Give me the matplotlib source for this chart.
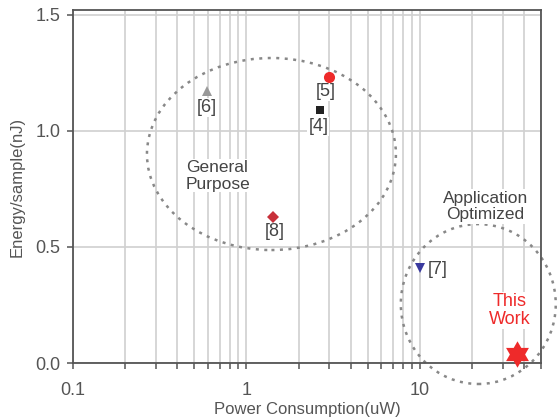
import matplotlib
matplotlib.use("Agg")
import matplotlib.pyplot as plt
from matplotlib.patches import Ellipse
from matplotlib.path import Path
from matplotlib.ticker import LogLocator, FixedLocator, NullFormatter, FixedFormatter

plt.rcParams['font.family'] = ['Liberation Sans', 'DejaVu Sans']

# ---- data ----
labels = ["[4]", "[5]", "[6]", "[7]", "[8]", "This\nWork"]
power = [2.65, 3.0, 0.59, 10.0, 1.43, 36.5]          # uW
energy = [1.09, 1.23, 1.17, 0.41, 0.63, 0.04]        # nJ/sample
x_ticks = [0.1, 1, 10]
x_tick_labels = ["0.1", "1", "10"]
y_ticks = [0.0, 0.5, 1.0, 1.5]
y_tick_labels = ["0.0", "0.5", "1.0", "1.5"]

# ---- styles ----
hexagram = Path.unit_regular_star(6, 0.577)
markers = ["s", "o", "^", "v", "D", hexagram]
colors = ["#222222", "#ee2a2a", "#999999", "#3a3a9e", "#c8303a", "#ee2a2a"]
sizes = [5.5, 8, 7, 7, 6.5, 19]
label_offsets = [(-1.5, -16.7), (-3.5, -14.5), (0, -16.5), (8, -2), (1, -15), (-8, 43)]
label_ha = ["center", "center", "center", "left", "center", "center"]
label_colors = ["#444444", "#444444", "#444444", "#444444", "#444444", "#ee2a2a"]

fig = plt.figure(figsize=(5.57, 4.2), dpi=100)
ax = fig.add_axes([73/557, 1 - 363/420, (541-73)/557, (363-10)/420])

ax.set_xscale("log")
ax.set_xlim(0.1, 50)
ax.set_ylim(0, 1.52)

ax.xaxis.set_major_locator(FixedLocator(x_ticks))
ax.xaxis.set_major_formatter(FixedFormatter(x_tick_labels))
ax.xaxis.set_minor_locator(LogLocator(base=10, subs=range(2, 10)))
ax.xaxis.set_minor_formatter(NullFormatter())
ax.yaxis.set_major_locator(FixedLocator(y_ticks))
ax.yaxis.set_major_formatter(FixedFormatter(y_tick_labels))

ax.grid(True, which="both", axis="x", color="#d0d0d0", lw=1.2, zorder=0)
ax.grid(True, which="major", axis="y", color="#d0d0d0", lw=1.2, zorder=0)
ax.set_axisbelow(True)

for s in ax.spines.values():
    s.set_color("#555555")
    s.set_linewidth(1.3)

ax.tick_params(axis="x", which="both", direction="out", length=4, width=1.1,
               color="#555555", labelsize=13, labelcolor="#555555", pad=10)
ax.tick_params(axis="y", which="both", direction="out", length=4, width=1.1,
               color="#555555", labelsize=13, labelcolor="#555555", pad=5)

ax.set_xlabel("Power Consumption(uW)", fontsize=12, color="#555555", labelpad=2)
ax.set_ylabel("Energy/sample(nJ)", fontsize=12, color="#555555", labelpad=8)

# ellipses (axes coordinates)
e1 = Ellipse((0.424, 0.592), 0.532, 0.544, transform=ax.transAxes, fill=False,
             edgecolor="#888888", lw=1.8, ls=(0, (1.2, 2.2)), zorder=2)
e2 = Ellipse((0.866, 0.167), 0.331, 0.453, transform=ax.transAxes, fill=False,
             edgecolor="#888888", lw=1.8, ls=(0, (1.2, 2.2)), zorder=2, clip_on=False)
ax.add_patch(e1)
ax.add_patch(e2)

for x, y, m, c, ms, lab, off, ha, lc in zip(power, energy, markers, colors, sizes,
                                            labels, label_offsets, label_ha, label_colors):
    ax.plot([x], [y], marker=m, color=c, ms=ms, ls="none", zorder=5, clip_on=False,
            markeredgewidth=0)
    ax.annotate(lab, (x, y), xytext=off, textcoords="offset pixels", ha=ha, va="center",
                fontsize=13, color=lc, linespacing=1.1, zorder=4,
                bbox=dict(boxstyle="square,pad=0.05", fc="white", ec="none"))

ax.text(0.2415, 0.530, "General\nPurpose", transform=ax.transAxes, ha="left", va="center",
        fontsize=12.5, color="#444444", linespacing=1.1, zorder=4,
        bbox=dict(boxstyle="square,pad=0.05", fc="white", ec="none"))
ax.text(0.881, 0.443, "Application\nOptimized", transform=ax.transAxes, ha="center",
        va="center", fontsize=12.5, color="#444444", linespacing=1.1, zorder=4,
        bbox=dict(boxstyle="square,pad=0.1", fc="white", ec="none"))

fig.savefig("out.png", dpi=100)
